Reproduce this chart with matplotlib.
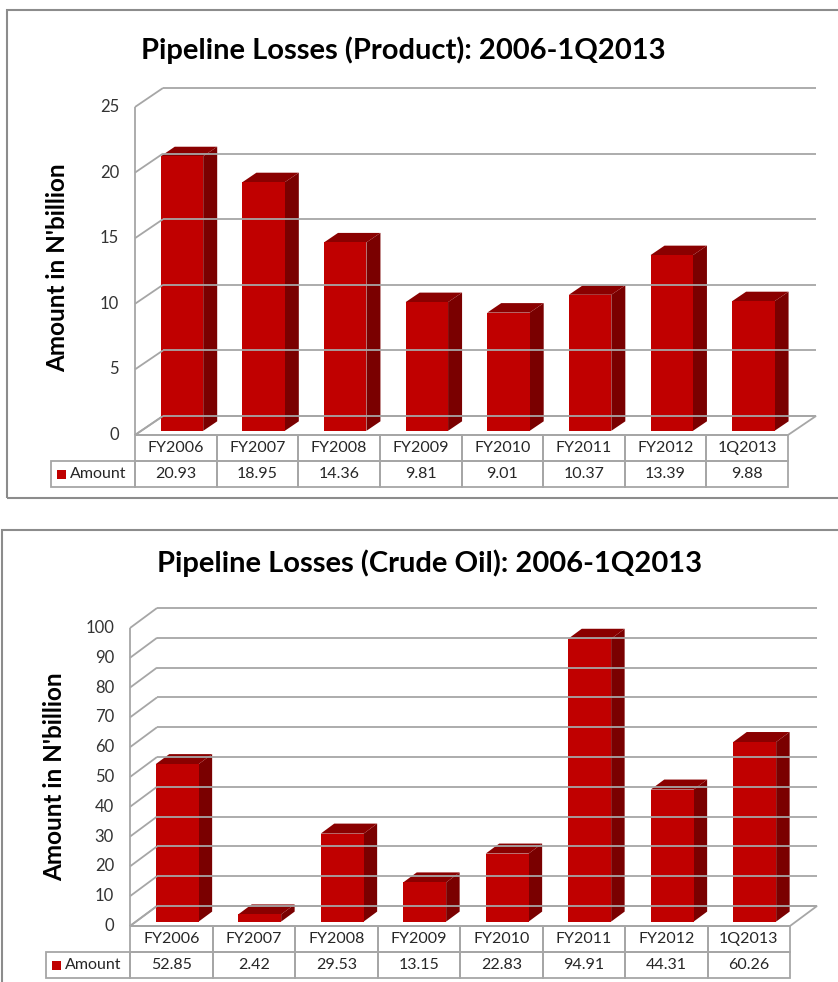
import numpy as np
import matplotlib
matplotlib.use("Agg")
import matplotlib.pyplot as plt
from matplotlib.patches import Polygon, Rectangle

W, H = 838, 982

categories = ["FY2006", "FY2007", "FY2008", "FY2009", "FY2010", "FY2011", "FY2012", "1Q2013"]
series_name = "Amount"
product_losses = [20.93, 18.95, 14.36, 9.81, 9.01, 10.37, 13.39, 9.88]
crude_losses = [52.85, 2.42, 29.53, 13.15, 22.83, 94.91, 44.31, 60.26]
product_ticks = [0, 5, 10, 15, 20, 25]
crude_ticks = [0, 10, 20, 30, 40, 50, 60, 70, 80, 90, 100]

BAR_FRONT = "#c00000"
BAR_SIDE = "#7a0000"
BAR_TOP = "#8a0000"
GRID = "#a6a6a6"
FRAME = "#8c8c8c"

plt.rcParams["font.family"] = ["Lato", "DejaVu Sans"]

fig = plt.figure(figsize=(W / 100, H / 100), dpi=100)


def px_rect(x0, y0, x1, y1):
    return [x0 / W, 1 - y1 / H, (x1 - x0) / W, (y1 - y0) / H]


def chart(plane, depth, ticks, values, title, title_xy, label_xy):
    x0, y0, x1, y1 = plane
    n = len(categories)
    ymax = ticks[-1]
    ax = fig.add_axes(px_rect(*plane))
    ax.set_xlim(-0.5, n - 0.5)
    ax.set_ylim(0, ymax)
    ax.axis("off")
    ux = (x1 - x0) / n          # pixels per category
    uy = (y1 - y0) / ymax       # pixels per value unit
    ddx, ddy = depth[0] / ux, depth[1] / uy

    def P(x, v, d):
        return (x + d * ddx, v + d * ddy)

    left, right = -0.5, n - 0.5
    kw = dict(color=GRID, lw=1.3, clip_on=False, solid_capstyle="butt")

    # floor
    ax.add_patch(Polygon([P(left, 0, 0), P(right, 0, 0), P(right, 0, 1), P(left, 0, 1)],
                         closed=True, fc="white", ec=GRID, lw=1.3, clip_on=False))
    # back wall + side wall gridlines, tick labels
    for t in ticks:
        ax.plot(*zip(P(left, t, 1), P(right, t, 1)), **kw)
        ax.plot(*zip(P(left, t, 0), P(left, t, 1)), **kw)
        ax.text(left - 16 / ux, t, str(t), ha="right", va="center",
                fontsize=12, color="#333333")
    ax.plot([left, left], [0, ymax], **kw)

    # 3d bars
    w, d0, d1 = 0.52, 0.22, 0.72
    for i, v in enumerate(values):
        a, b = i - w / 2, i + w / 2
        ax.add_patch(Polygon([P(b, 0, d0), P(b, 0, d1), P(b, v, d1), P(b, v, d0)],
                             fc=BAR_SIDE, ec="none", clip_on=False))
        ax.add_patch(Polygon([P(a, v, d0), P(b, v, d0), P(b, v, d1), P(a, v, d1)],
                             fc=BAR_TOP, ec="none", clip_on=False))
        ax.add_patch(Polygon([P(a, 0, d0), P(b, 0, d0), P(b, v, d0), P(a, v, d0)],
                             fc=BAR_FRONT, ec="none", clip_on=False))

    # data table
    rh = 26 / uy
    for i, (c, v) in enumerate(zip(categories, values)):
        for r in (1, 2):
            ax.add_patch(Rectangle((i - 0.5, -r * rh), 1, rh, fill=False, ec=GRID,
                                   lw=1.3, clip_on=False))
        ax.text(i, -0.5 * rh, c, ha="center", va="center", fontsize=11.5, color="#262626")
        ax.text(i, -1.5 * rh, f"{v:.2f}", ha="center", va="center", fontsize=11.5,
                color="#262626")
    lc = 84 / ux
    ax.add_patch(Rectangle((left - lc, -2 * rh), lc, rh, fill=False, ec=GRID,
                           lw=1.3, clip_on=False))
    ax.add_patch(Rectangle((left - lc + 6 / ux, -1.5 * rh - 4.5 / uy), 9 / ux, 9 / uy,
                           fc=BAR_FRONT, ec="none", clip_on=False))
    ax.text(left - lc + 19 / ux, -1.5 * rh, series_name, ha="left", va="center",
            fontsize=11.5, color="#262626")

    fig.text(title_xy[0] / W, 1 - title_xy[1] / H, title, ha="center", va="center",
             fontsize=21, fontweight="bold", color="black")
    fig.text(label_xy[0] / W, 1 - label_xy[1] / H, "Amount in N'billion", rotation=90,
             ha="center", va="center", fontsize=17.5, fontweight="bold", color="black")


# chart frames
fig.add_artist(Rectangle((7 / W, 1 - 498 / H), (W - 7 + 10) / W, 488 / H,
                         transform=fig.transFigure, fill=False, ec=FRAME, lw=1.5))
fig.add_artist(Rectangle((2 / W, -0.02), (W + 10) / W, 1 - 530 / H + 0.02,
                         transform=fig.transFigure, fill=False, ec=FRAME, lw=1.5))

chart((135, 107, 788, 435), (28, 19), product_ticks, product_losses,
      "Pipeline Losses (Product): 2006-1Q2013", (403, 50), (58, 268))
chart((130, 628, 790, 926), (27, 20), crude_ticks, crude_losses,
      "Pipeline Losses (Crude Oil): 2006-1Q2013", (430, 563), (55, 777))

fig.savefig("out.png", dpi=100)
